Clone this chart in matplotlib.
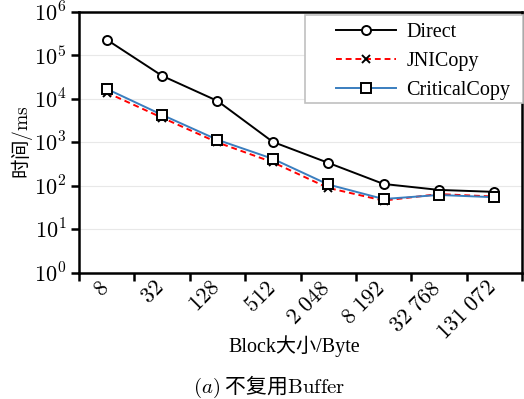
import matplotlib
matplotlib.use("Agg")
import matplotlib.pyplot as plt
from matplotlib.patches import Rectangle
import numpy as np

plt.rcParams['mathtext.fontset'] = 'cm'
plt.rcParams['font.family'] = ['Liberation Serif', 'Noto Sans CJK SC']

block_sizes = ['8', '32', '128', '512', '2 048', '8 192', '32 768', '131 072']
direct = [2.3e5, 3.4e4, 9.0e3, 1.03e3, 340, 111, 81, 73]
jni_copy = [1.4e4, 3.7e3, 1.0e3, 350, 90, 46, 65, 57]
critical_copy = [1.7e4, 4.3e3, 1.15e3, 420, 108, 50, 62, 55]

W, H = 524, 399
fig = plt.figure(figsize=(W / 100, H / 100), dpi=100)
ax = fig.add_axes([0.151, 0.316, 0.845, 0.654])

x = np.arange(len(block_sizes))
ax.plot(x, direct, color='black', lw=1.4, marker='o', ms=6.5,
        mfc='white', mec='black', mew=1.4, label='Direct')
ax.plot(x, jni_copy, color='red', lw=1.4, ls=(0, (3, 2)), marker='x', ms=5.5,
        mec='black', mew=1.4, label='JNICopy')
ax.plot(x, critical_copy, color='#3a7ebf', lw=1.4, marker='s', ms=6.5,
        mfc='white', mec='black', mew=1.4, label='CriticalCopy')

ax.set_yscale('log')
ax.set_ylim(1, 1e6)
ax.set_yticks([10.0**k for k in range(7)])
ax.set_yticklabels([rf'$10^{{{k}}}$' for k in range(7)], fontsize=16)
ax.yaxis.set_minor_locator(matplotlib.ticker.NullLocator())
ax.grid(axis='y', color='#e8e8e8', lw=0.8)
ax.set_axisbelow(True)

ax.set_xlim(-0.5, len(block_sizes) - 0.5)
ax.set_xticks(x)
ax.set_xticklabels([r'$' + s.replace(' ', r'\ ') + r'$' for s in block_sizes],
                   rotation=45, ha='right', va='center', rotation_mode='anchor',
                   fontsize=16)
ax.tick_params(axis='x', which='major', length=0, pad=9)
ax.set_xticks(np.arange(len(block_sizes) + 1) - 0.5, minor=True)
ax.tick_params(axis='x', which='minor', length=6, width=1.8, direction='out')
ax.tick_params(axis='y', which='major', length=6, width=1.8, direction='out', pad=3)

for side in ['left', 'bottom', 'top', 'right']:
    ax.spines[side].set_linewidth(1.8)

ax.set_ylabel('时间$\\mathrm{/ms}$', fontsize=14, family=['Noto Sans CJK SC'])
ax.yaxis.set_label_coords(-0.100, 0.5)

fig.text(0.562, 1 - 346 / H, 'Block大小/Byte', ha='center', va='center',
         fontsize=14.5)

# legend entries without their own frame; a plain box is drawn around them
leg = ax.legend(loc='upper left', fontsize=14.5, frameon=False,
                handlelength=3.0, handletextpad=0.5, borderpad=0,
                labelspacing=0.5, borderaxespad=0,
                bbox_to_anchor=(336 / W, 1 - 23 / H), bbox_transform=fig.transFigure)
frame = Rectangle((305 / W, 1 - 103 / H), 218 / W, 88 / H,
                  transform=fig.transFigure, facecolor='white',
                  edgecolor='#c0c0c0', lw=1.2, zorder=4)
ax.add_artist(frame)
frame.set_clip_on(False)
leg.set_zorder(5)

fig.text(0.513, 1 - 387 / H, r'$(a)$ 不复用$\mathrm{Buffer}$', ha='center',
         va='center', fontsize=15, family=['Noto Sans CJK SC'])

fig.savefig('out.png', dpi=100)
